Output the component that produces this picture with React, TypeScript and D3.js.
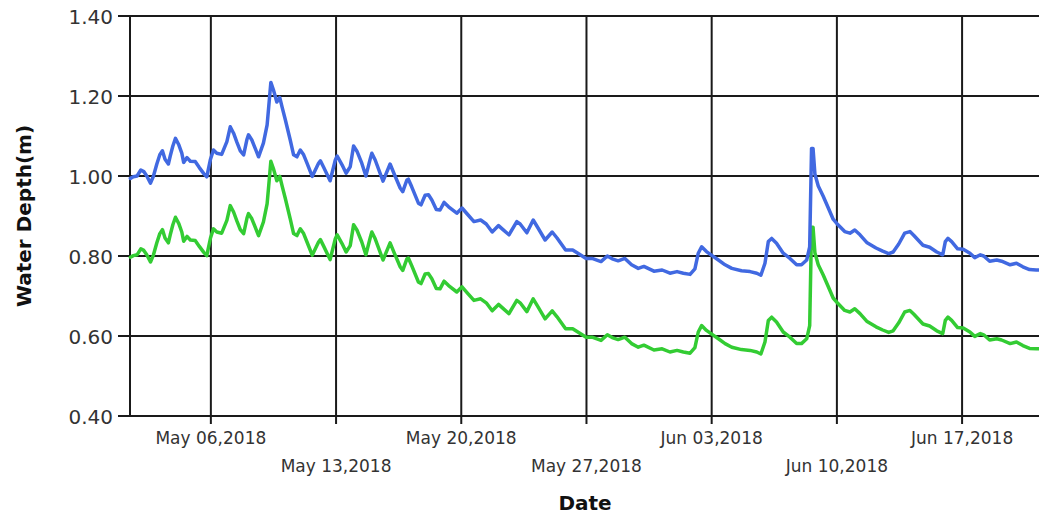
import React from "react";
import * as d3 from "d3";

// Hours elapsed since 2018-05-01 00:00 for each reading
const hours = [
  12, 16, 21, 26, 30, 34, 39, 43, 47.5, 51.5,
  55, 58.5, 63, 65.5, 69, 72.5, 77, 81, 83.5, 88,
  92.5, 99, 104.5, 110.5, 114.5, 119.5, 123.5, 128, 134.5, 141.5,
  146, 150.5, 155, 159.5, 164, 168.5, 170.5, 175, 179.5, 184,
  190.5, 195.5, 197.5, 200.5, 204, 208.5, 212.5, 215.5, 220, 226.5,
  231, 235.5, 240, 244.5, 249, 256, 264.5, 267, 271, 280,
  287, 289.5, 296, 301.5, 307, 311.5, 316, 322.5, 328, 334,
  336, 340.5, 351, 360.5, 366, 374, 377.5, 383, 385, 389.5,
  398.5, 402, 407.5, 412, 416.5, 422.5, 427.5, 433, 439, 450,
  457, 464, 473, 482, 489.5, 497.5, 506, 512, 520, 530.5,
  535, 544, 552.5, 559, 568.5, 578, 584.5, 596, 605.5, 614,
  623.5, 631.5, 643.5, 652, 658.5, 666.5, 675.5, 684.5, 693.5, 701,
  714.5, 725.5, 736, 745.5, 754, 763, 769.5, 774, 778.5, 785,
  794, 801, 810, 819, 832, 843.5, 852.5, 858, 863.5, 868,
  872.5, 879, 888, 897, 906, 912.5, 919.5, 923.5, 926, 928,
  930.5, 935, 941.5, 948.5, 955, 961.5, 970.5, 977.5, 984, 991,
  1000, 1012.5, 1021.5, 1029.5, 1035.5, 1043, 1051, 1058, 1063, 1075.5,
  1084.5, 1094, 1102, 1105.5, 1109, 1114, 1122, 1129.5, 1138.5, 1145,
  1152.5, 1157, 1165, 1174.5, 1181, 1192.5, 1201, 1209.5, 1218.5, 1227.5,
  1231,
];

const depthBlue = [
  0.994, 0.998, 1.0, 1.015, 1.011, 1.0, 0.982, 1.0, 1.03, 1.053,
  1.063, 1.042, 1.03, 1.05, 1.075, 1.094, 1.078, 1.057, 1.034, 1.046,
  1.037, 1.036, 1.021, 1.006, 0.998, 1.042, 1.065, 1.057, 1.054, 1.086,
  1.123, 1.107, 1.084, 1.063, 1.053, 1.092, 1.103, 1.09, 1.069, 1.048,
  1.082, 1.128, 1.17, 1.234, 1.215, 1.185, 1.196, 1.173, 1.14, 1.09,
  1.053, 1.048, 1.065, 1.053, 1.032, 0.999, 1.032, 1.038, 1.023, 0.988,
  1.04, 1.05, 1.028, 1.007, 1.023, 1.075, 1.062, 1.032, 1.0, 1.044,
  1.057, 1.04, 0.987, 1.03, 1.005, 0.97, 0.961, 0.99, 0.992, 0.973,
  0.932, 0.928, 0.952, 0.953, 0.94, 0.916, 0.915, 0.934, 0.923, 0.907,
  0.92, 0.905, 0.886, 0.89, 0.88, 0.86, 0.876, 0.866, 0.853, 0.886,
  0.88, 0.858, 0.89, 0.87, 0.84, 0.86, 0.845, 0.815, 0.815, 0.805,
  0.794, 0.794, 0.786, 0.8, 0.793, 0.788, 0.794, 0.778, 0.769, 0.774,
  0.762, 0.765, 0.757, 0.761, 0.757, 0.754, 0.768, 0.807, 0.823, 0.811,
  0.799, 0.79, 0.778, 0.769, 0.763, 0.761, 0.757, 0.752, 0.782, 0.836,
  0.844, 0.832, 0.807, 0.794, 0.778, 0.778, 0.79, 0.823, 1.069, 1.069,
  1.005, 0.975, 0.95, 0.92, 0.892, 0.878, 0.861, 0.857, 0.865, 0.853,
  0.834, 0.82, 0.812, 0.806, 0.81, 0.83, 0.857, 0.861, 0.852, 0.827,
  0.822, 0.81, 0.803, 0.836, 0.844, 0.836, 0.818, 0.817, 0.807, 0.796,
  0.803, 0.8, 0.787, 0.79, 0.787, 0.778, 0.782, 0.773, 0.766, 0.765,
  0.765,
];

const depthGreen = [
  0.797, 0.801, 0.803, 0.818, 0.814, 0.803, 0.785, 0.803, 0.833, 0.856,
  0.866, 0.845, 0.833, 0.853, 0.878, 0.897, 0.881, 0.86, 0.837, 0.849,
  0.84, 0.839, 0.824, 0.809, 0.801, 0.845, 0.868, 0.86, 0.857, 0.889,
  0.926, 0.91, 0.887, 0.866, 0.856, 0.895, 0.906, 0.893, 0.872, 0.851,
  0.885, 0.931, 0.973, 1.037, 1.018, 0.988, 0.999, 0.976, 0.943, 0.893,
  0.856, 0.851, 0.868, 0.856, 0.835, 0.802, 0.835, 0.841, 0.826, 0.791,
  0.843, 0.853, 0.831, 0.81, 0.826, 0.878, 0.865, 0.835, 0.803, 0.847,
  0.86, 0.843, 0.79, 0.833, 0.808, 0.773, 0.764, 0.793, 0.795, 0.776,
  0.735, 0.731, 0.755, 0.756, 0.743, 0.719, 0.718, 0.737, 0.726, 0.71,
  0.723, 0.708, 0.689, 0.693, 0.683, 0.663, 0.679, 0.669, 0.656, 0.689,
  0.683, 0.661, 0.693, 0.673, 0.643, 0.663, 0.648, 0.618, 0.618, 0.608,
  0.597, 0.597, 0.589, 0.603, 0.596, 0.591, 0.597, 0.581, 0.572, 0.577,
  0.565, 0.568, 0.56, 0.564, 0.56, 0.557, 0.571, 0.61, 0.626, 0.614,
  0.602, 0.593, 0.581, 0.572, 0.566, 0.564, 0.56, 0.555, 0.585, 0.639,
  0.647, 0.635, 0.61, 0.597, 0.581, 0.581, 0.593, 0.626, 0.872, 0.872,
  0.808, 0.778, 0.753, 0.723, 0.695, 0.681, 0.664, 0.66, 0.668, 0.656,
  0.637, 0.623, 0.615, 0.609, 0.613, 0.633, 0.66, 0.664, 0.655, 0.63,
  0.625, 0.613, 0.606, 0.639, 0.647, 0.639, 0.621, 0.62, 0.61, 0.599,
  0.606, 0.603, 0.59, 0.593, 0.59, 0.581, 0.585, 0.576, 0.569, 0.568,
  0.568,
];

const yTickValues = [0.4, 0.6, 0.8, 1.0, 1.2, 1.4];
const xTickDates = [
  "2018-05-06",
  "2018-05-13",
  "2018-05-20",
  "2018-05-27",
  "2018-06-03",
  "2018-06-10",
  "2018-06-17",
];

const BASE = new Date(2018, 4, 1, 0, 0, 0).getTime();
const toDate = (h: number) => new Date(BASE + h * 3600000);
const parseDay = (s: string) => {
  const [y, m, d] = s.split("-").map(Number);
  return new Date(y, m - 1, d);
};

export default function App() {
  const W = 1039;
  const H = 515;
  const left = 130;
  const right = 1039;
  const top = 16;
  const bottom = 416;

  const x = d3
    .scaleTime()
    .domain([toDate(11.5), toDate(1231.2)])
    .range([left, right]);
  const y = d3.scaleLinear().domain([0.4, 1.4]).range([bottom, top]);

  const ptsBlue = hours.map((h, i) => [x(toDate(h)), y(depthBlue[i])] as [number, number]);
  const ptsGreen = hours.map((h, i) => [x(toDate(h)), y(depthGreen[i])] as [number, number]);
  const line = d3.line<[number, number]>().curve(d3.curveLinear);

  const fmt = d3.timeFormat("%b %d,%Y");
  const gridColor = "#1a1a1a";

  return (
    <svg
      width={W}
      height={H}
      style={{ position: "absolute", left: 0, top: 0, background: "#fff" }}
    >
      <rect x={0} y={0} width={W} height={H} fill="#fff" />
      {yTickValues.map((v) => (
        <line
          key={"h" + v}
          x1={left - 12}
          x2={right}
          y1={y(v)}
          y2={y(v)}
          stroke={gridColor}
          strokeWidth={2}
        />
      ))}
      {xTickDates.map((s) => {
        const xx = x(parseDay(s));
        return (
          <line
            key={"v" + s}
            x1={xx}
            x2={xx}
            y1={top}
            y2={bottom + 8}
            stroke={gridColor}
            strokeWidth={2}
          />
        );
      })}
      <line x1={left} x2={left} y1={top} y2={bottom} stroke={gridColor} strokeWidth={2} />

      <path
        d={line(ptsGreen) || ""}
        fill="none"
        stroke="#33cc33"
        strokeWidth={3.5}
        strokeLinejoin="round"
        strokeLinecap="round"
      />
      <path
        d={line(ptsBlue) || ""}
        fill="none"
        stroke="#4169e1"
        strokeWidth={3.5}
        strokeLinejoin="round"
        strokeLinecap="round"
      />

      {yTickValues.map((v) => (
        <text
          key={"yl" + v}
          x={113}
          y={y(v) + 7.5}
          textAnchor="end"
          fontFamily="DejaVu Sans, sans-serif"
          fontSize={20}
          fill="#333"
        >
          {v.toFixed(2)}
        </text>
      ))}
      {xTickDates.map((s, i) => (
        <text
          key={"xl" + s}
          x={x(parseDay(s))}
          y={i % 2 === 0 ? 444 : 472}
          textAnchor="middle"
          fontFamily="DejaVu Sans, sans-serif"
          fontSize={17}
          fill="#333"
        >
          {fmt(parseDay(s))}
        </text>
      ))}

      <text
        transform="translate(30.5,216) rotate(-90)"
        textAnchor="middle"
        fontFamily="DejaVu Sans, sans-serif"
        fontWeight="bold"
        fontSize={20}
        fill="#111"
      >
        Water Depth(m)
      </text>
      <text
        x={585}
        y={510}
        textAnchor="middle"
        fontFamily="DejaVu Sans, sans-serif"
        fontWeight="bold"
        fontSize={20}
        fill="#111"
      >
        Date
      </text>
    </svg>
  );
}
